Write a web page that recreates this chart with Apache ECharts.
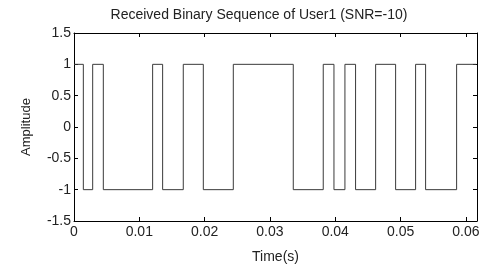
<!DOCTYPE html>
<html>
<head>
<meta charset="utf-8">
<script src="https://cdn.jsdelivr.net/npm/echarts@6/dist/echarts.min.js"></script>
<style>
  html, body { margin: 0; padding: 0; background: #fff; }
  #chart { width: 486px; height: 269px; }
</style>
</head>
<body>
<div id="chart"></div>
<script>
var edgeTimes = [0, 0.00143, 0.00286, 0.00449, 0.01204, 0.01357, 0.01673, 0.0198,
                 0.02439, 0.03357, 0.03816, 0.0398, 0.04148, 0.04311, 0.04618,
                 0.04924, 0.0523, 0.05383, 0.05858, 0.0616];
var levels = [1, -1, 1, -1, 1, -1, 1, -1,
              1, -1, 1, -1, 1, -1, 1,
              -1, 1, -1, 1, 1];
var xTicks = [0, 0.01, 0.02, 0.03, 0.04, 0.05, 0.06];
var yTicks = [-1.5, -1, -0.5, 0, 0.5, 1, 1.5];

var font = 'Liberation Sans, Arial, sans-serif';
var seriesData = edgeTimes.map(function (t, i) { return [t, levels[i]]; });

var chart = echarts.init(document.getElementById('chart'));

var tickStyle = { show: true, inside: true, length: 4, lineStyle: { color: '#000', width: 1 } };
var lineStyle = { show: true, onZero: false, lineStyle: { color: '#000', width: 1 } };

chart.setOption({
    animation: false,
    backgroundColor: '#fff',
    title: {
        text: 'Received Binary Sequence of User1 (SNR=-10)',
        left: 254, top: 3, textAlign: 'center',
        textStyle: { fontFamily: font, fontSize: 14, fontWeight: 'normal', color: '#222' }
    },
    grid: { left: 74, right: 9, top: 33, bottom: 45, containLabel: false },
    xAxis: [
        {
            type: 'value', position: 'bottom',
            min: xTicks[0], max: 0.0617, interval: 0.01,
            name: 'Time(s)', nameLocation: 'middle', nameGap: 29,
            nameTextStyle: { fontFamily: font, fontSize: 14, color: '#222' },
            axisLine: lineStyle, axisTick: tickStyle, splitLine: { show: false },
            axisLabel: {
                fontFamily: font, fontSize: 14, color: '#222', margin: 4,
                showMaxLabel: false,
                formatter: function (v) { return xTicks.indexOf(+v.toFixed(4)) >= 0 ? String(+v.toFixed(4)) : ''; }
            }
        },
        {
            type: 'value', position: 'top',
            min: xTicks[0], max: 0.0617, interval: 0.01,
            axisLine: lineStyle, axisTick: tickStyle, splitLine: { show: false },
            axisLabel: { show: false }
        }
    ],
    yAxis: [
        {
            type: 'value', position: 'left',
            min: yTicks[0], max: yTicks[yTicks.length - 1], interval: 0.5,
            name: 'Amplitude', nameLocation: 'middle', nameGap: 41,
            nameTextStyle: { fontFamily: font, fontSize: 13, color: '#222' },
            axisLine: lineStyle, axisTick: tickStyle, splitLine: { show: false },
            axisLabel: { fontFamily: font, fontSize: 14, color: '#222', margin: 3 }
        },
        {
            type: 'value', position: 'right',
            min: yTicks[0], max: yTicks[yTicks.length - 1], interval: 0.5,
            axisLine: lineStyle, axisTick: tickStyle, splitLine: { show: false },
            axisLabel: { show: false }
        }
    ],
    series: [
        {
            type: 'line',
            step: 'end',
            data: seriesData,
            showSymbol: false,
            lineStyle: { color: '#3a3a3a', width: 1 },
            xAxisIndex: 0,
            yAxisIndex: 0
        }
    ]
});
</script>
</body>
</html>
